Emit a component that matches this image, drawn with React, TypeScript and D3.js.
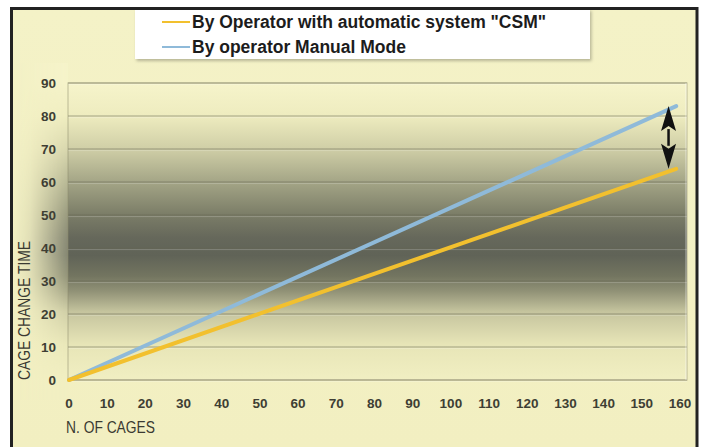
import React from "react";
import * as d3 from "d3";

const xTicks = [0, 10, 20, 30, 40, 50, 60, 70, 80, 90, 100, 110, 120, 130, 140, 150, 160];
const yTicks = [0, 10, 20, 30, 40, 50, 60, 70, 80, 90];
const cagesCSM = [0, 159];
const timeCSM = [0, 64];
const cagesManual = [0, 159];
const timeManual = [0, 83];
const legendLabels = ['By Operator with automatic system "CSM"', "By operator Manual Mode"];
const seriesColors = ["#f2c02e", "#8fbad9"];
const arrowAt = 157;

const W = 705;
const H = 447;
const plot = { left: 68, right: 687, top: 83, bottom: 380 };

export default function App() {
  const x = d3.scaleLinear().domain([0, 160]).range([69, 680]);
  const y = d3.scaleLinear().domain([0, 90]).range([380, 83]);
  const line = d3
    .line<[number, number]>()
    .x((d) => x(d[0]))
    .y((d) => y(d[1]));
  const csm = cagesCSM.map((c, i) => [c, timeCSM[i]] as [number, number]);
  const manual = cagesManual.map((c, i) => [c, timeManual[i]] as [number, number]);

  const ax = x(arrowAt);
  const aTop = y(timeManual[1]);
  const aBot = y(timeCSM[1]);
  const headL = 25;
  const headW = 7.5;

  const stops: [number, string][] = [
    [0, "#f6f4cb"],
    [0.11, "#eeecbf"],
    [0.22, "#d0cfa7"],
    [0.33, "#a5a687"],
    [0.44, "#7c7e68"],
    [0.52, "#66685b"],
    [0.58, "#606357"],
    [0.65, "#737560"],
    [0.7, "#909176"],
    [0.77, "#c5c49e"],
    [0.88, "#e7e5b7"],
    [1, "#f1efc2"],
  ];

  const labelFont = "'Liberation Sans', Arial, sans-serif";

  return (
    <svg
      width={W}
      height={H}
      style={{ position: "absolute", left: 0, top: 0, display: "block" }}
    >
      <defs>
        <linearGradient id="plotGrad" x1="0" y1={plot.top} x2="0" y2={plot.bottom} gradientUnits="userSpaceOnUse">
          {stops.map(([o, c], i) => (
            <stop key={i} offset={o} stopColor={c} />
          ))}
        </linearGradient>
        <linearGradient id="bgGrad" x1="0" y1="0" x2="0" y2="1">
          <stop offset="0" stopColor="#f4f2c7" />
          <stop offset="1" stopColor="#f2efc1" />
        </linearGradient>
        <linearGradient id="fadeX" x1="0" y1="0" x2="1" y2="0">
          <stop offset="0" stopColor="white" stopOpacity="0" />
          <stop offset="0.3" stopColor="white" stopOpacity="0.12" />
          <stop offset="1" stopColor="white" stopOpacity="0.75" />
        </linearGradient>
        <mask id="leftMask" maskUnits="userSpaceOnUse" x="13" y="50" width={plot.left - 13} height="360">
          <rect x="13" y="50" width={plot.left - 13} height="360" fill="url(#fadeX)" />
        </mask>
        <filter id="shadow" x="-5%" y="-20%" width="110%" height="150%">
          <feDropShadow dx="1.5" dy="2" stdDeviation="1.5" floodColor="#000" floodOpacity="0.25" />
        </filter>
      </defs>

      <rect x={0} y={0} width={W} height={H} fill="#ffffff" />
      <rect x={12} y={9} width={684} height={H - 9} fill="url(#bgGrad)" />

      {/* left margin shading */}
      <rect
        x={13}
        y={plot.top - 20}
        width={plot.left - 13}
        height={plot.bottom - plot.top + 40}
        fill="url(#plotGrad)"
        mask="url(#leftMask)"
      />

      {/* plot area */}
      <rect
        x={plot.left}
        y={plot.top}
        width={plot.right - plot.left}
        height={plot.bottom - plot.top}
        fill="url(#plotGrad)"
      />

      {/* grid lines */}
      {yTicks.map((t) => (
        <g key={t}>
          <line x1={plot.left} x2={plot.right} y1={y(t)} y2={y(t)} stroke="#676853" strokeOpacity={0.55} strokeWidth={1.2} />
          <line x1={plot.left} x2={plot.right} y1={y(t) + 1.6} y2={y(t) + 1.6} stroke="#ffffff" strokeOpacity={0.2} strokeWidth={1} />
        </g>
      ))}

      {/* plot border */}
      <rect
        x={plot.left}
        y={plot.top}
        width={plot.right - plot.left}
        height={plot.bottom - plot.top}
        fill="none"
        stroke="#8d8c6c"
        strokeOpacity={0.45}
        strokeWidth={1.2}
      />
      <line x1={plot.right - 1} x2={plot.right - 1} y1={plot.top} y2={plot.bottom} stroke="#ffffff" strokeOpacity={0.35} strokeWidth={1.5} />

      {/* series */}
      <path d={line(manual) || ""} fill="none" stroke={seriesColors[1]} strokeWidth={4} strokeLinecap="round" />
      <path d={line(csm) || ""} fill="none" stroke={seriesColors[0]} strokeWidth={4} strokeLinecap="round" />

      {/* arrow */}
      <line x1={ax} x2={ax} y1={aTop + headL - 2} y2={aBot - headL + 2} stroke="#111" strokeWidth={2.5} />
      <path d={`M${ax},${aTop} L${ax - headW},${aTop + headL} L${ax},${aTop + headL - 5} L${ax + headW},${aTop + headL} Z`} fill="#111" />
      <path d={`M${ax},${aBot} L${ax - headW},${aBot - headL} L${ax},${aBot - headL + 5} L${ax + headW},${aBot - headL} Z`} fill="#111" />

      {/* y tick labels */}
      {yTicks.map((t) => (
        <text
          key={t}
          x={56}
          y={y(t)}
          dy="0.36em"
          textAnchor="end"
          fontFamily={labelFont}
          fontWeight="bold"
          fontSize={13.5}
          fill="#3e3e34"
        >
          {t}
        </text>
      ))}

      {/* x tick labels */}
      {xTicks.map((t) => (
        <text
          key={t}
          x={x(t)}
          y={408}
          textAnchor="middle"
          fontFamily={labelFont}
          fontWeight="bold"
          fontSize={13.5}
          fill="#3e3e34"
        >
          {t}
        </text>
      ))}

      {/* axis titles */}
      <text
        x={66}
        y={433}
        fontFamily={labelFont}
        fontSize={16.5}
        fill="#3a3a32"
        textLength={89}
        lengthAdjust="spacingAndGlyphs"
      >
        N. OF CAGES
      </text>
      <text
        transform={`translate(30,380) rotate(-90)`}
        x={0}
        y={0}
        fontFamily={labelFont}
        fontSize={16.5}
        fill="#3a3a32"
        textLength={139}
        lengthAdjust="spacingAndGlyphs"
      >
        CAGE CHANGE TIME
      </text>

      {/* legend */}
      <rect x={135} y={9} width={455} height={50} fill="#ffffff" filter="url(#shadow)" />
      {legendLabels.map((lab, i) => (
        <g key={i}>
          <line x1={162} x2={190} y1={22 + i * 25} y2={22 + i * 25} stroke={seriesColors[i]} strokeWidth={2} />
          <text
            x={192}
            y={22 + i * 25}
            dy="0.36em"
            fontFamily={labelFont}
            fontWeight="bold"
            fontSize={17.5}
            fill="#1c1c1c"
          >
            {lab}
          </text>
        </g>
      ))}

      {/* frame */}
      <path d={`M11.5,${H} L11.5,8.5 L697,8.5 L697,${H}`} fill="none" stroke="#222222" strokeWidth={3} />
    </svg>
  );
}
